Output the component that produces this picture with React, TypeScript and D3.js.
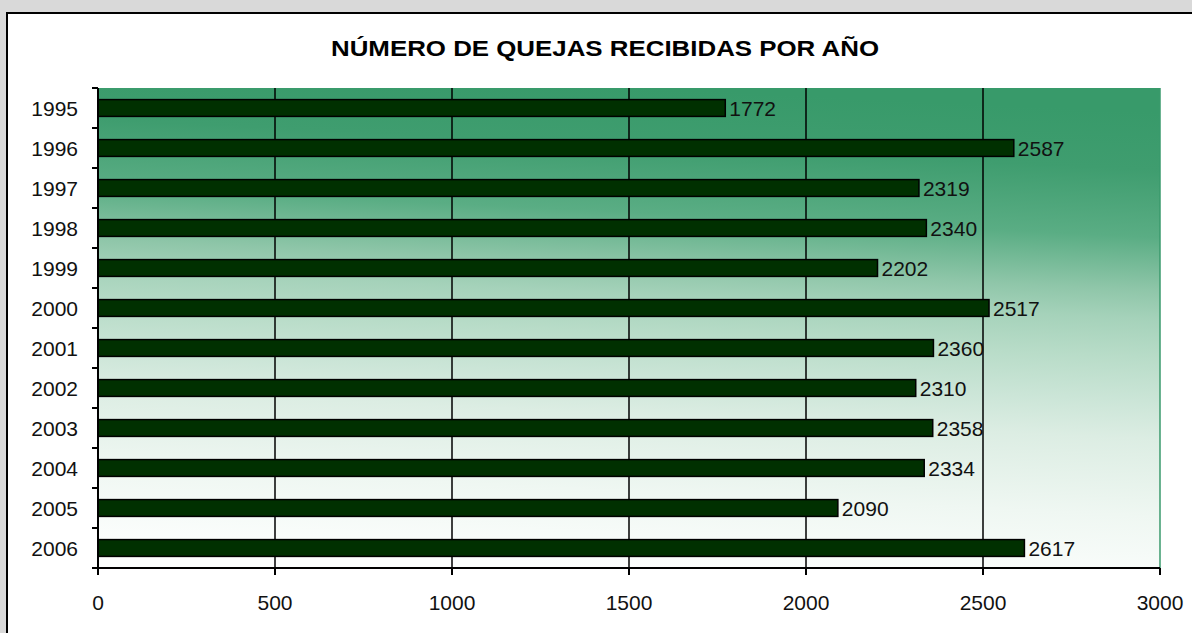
import { useEffect, useRef } from 'react'
import * as d3 from 'd3'

const years = ['1995', '1996', '1997', '1998', '1999', '2000', '2001', '2002', '2003', '2004', '2005', '2006']
const complaints = [1772, 2587, 2319, 2340, 2202, 2517, 2360, 2310, 2358, 2334, 2090, 2617]
const xTicks = [0, 500, 1000, 1500, 2000, 2500, 3000]
const title = 'NÚMERO DE QUEJAS RECIBIDAS POR AÑO'

export default function App() {
  const svgRef = useRef<SVGSVGElement>(null)
  const width = 1192
  const height = 633
  const margin = { top: 88, right: 32, bottom: 65, left: 98 }

  useEffect(() => {
    if (!svgRef.current) return
    const svg = d3.select(svgRef.current)
    svg.selectAll('*').remove()

    const innerWidth = width - margin.left - margin.right
    const innerHeight = height - margin.top - margin.bottom

    const x = d3.scaleLinear().domain([0, 3000]).range([0, innerWidth])
    const y = d3.scaleBand()
      .domain(years)
      .range([0, innerHeight])
      .paddingInner(0.58)
      .paddingOuter(0.29)

    // page background + chart frame
    svg.append('rect').attr('width', width).attr('height', height).attr('fill', '#d9d9d9')
    svg.append('rect').attr('x', 7).attr('y', 13).attr('width', width).attr('height', height)
      .attr('fill', '#ffffff').attr('stroke', '#000').attr('stroke-width', 2)

    // background gradient (coords are in the plot group's space)
    const defs = svg.append('defs')
    const grad = defs.append('linearGradient')
      .attr('id', 'plotBg')
      .attr('gradientUnits', 'userSpaceOnUse')
      .attr('x1', 550).attr('y1', 0)
      .attr('x2', 527).attr('y2', innerHeight)
    const stops: [number, string][] = [
      [0, '#389a6a'], [0.12, '#3f9d6f'], [0.26, '#5aad84'], [0.37, '#8fc6a9'],
      [0.43, '#a5d2ba'], [0.51, '#b8dcc8'], [0.6, '#cbe5d7'], [0.68, '#dcede3'],
      [0.84, '#eff7f2'], [1, '#fcfefd']
    ]
    stops.forEach(([o, c]) => grad.append('stop').attr('offset', o).attr('stop-color', c))

    const g = svg.append('g').attr('transform', `translate(${margin.left},${margin.top})`)

    g.append('rect')
      .attr('width', innerWidth)
      .attr('height', innerHeight)
      .attr('fill', 'url(#plotBg)')

    // right edge line
    g.append('line')
      .attr('x1', innerWidth).attr('x2', innerWidth)
      .attr('y1', 0).attr('y2', innerHeight)
      .attr('stroke', '#3a9a6c').attr('stroke-width', 1.5)

    // gridlines
    g.selectAll('.grid')
      .data(xTicks.filter(t => t > 0 && t < 3000))
      .enter()
      .append('line')
      .attr('x1', d => x(d)).attr('x2', d => x(d))
      .attr('y1', 0).attr('y2', innerHeight)
      .attr('stroke', '#000').attr('stroke-width', 1.5)

    // bars
    g.selectAll('.bar')
      .data(complaints)
      .enter()
      .append('rect')
      .attr('x', 0)
      .attr('y', (_, i) => y(years[i]) || 0)
      .attr('width', d => x(d))
      .attr('height', y.bandwidth())
      .attr('fill', '#003000')
      .attr('stroke', '#000')
      .attr('stroke-width', 1.5)

    // value labels
    g.selectAll('.val')
      .data(complaints)
      .enter()
      .append('text')
      .attr('x', d => x(d) + 4)
      .attr('y', (_, i) => (y(years[i]) || 0) + y.bandwidth() / 2)
      .attr('dy', '0.36em')
      .attr('font-family', 'Liberation Sans, Arial, sans-serif')
      .attr('font-size', 21)
      .attr('fill', '#111')
      .text(d => d)

    // left axis, ticks at category boundaries
    g.append('line')
      .attr('x1', 0).attr('x2', 0).attr('y1', 0).attr('y2', innerHeight)
      .attr('stroke', '#000').attr('stroke-width', 2)
    const cell = innerHeight / years.length
    g.selectAll('.ytick')
      .data(d3.range(years.length + 1))
      .enter()
      .append('line')
      .attr('x1', -6).attr('x2', 0)
      .attr('y1', i => i * cell)
      .attr('y2', i => i * cell)
      .attr('stroke', '#000').attr('stroke-width', 2)

    g.selectAll('.ylab')
      .data(years)
      .enter()
      .append('text')
      .attr('x', -20)
      .attr('y', d => (y(d) || 0) + y.bandwidth() / 2)
      .attr('dy', '0.36em')
      .attr('text-anchor', 'end')
      .attr('font-family', 'Liberation Sans, Arial, sans-serif')
      .attr('font-size', 21)
      .attr('fill', '#111')
      .text(d => d)

    // bottom axis
    g.append('line')
      .attr('x1', 0).attr('x2', innerWidth).attr('y1', innerHeight).attr('y2', innerHeight)
      .attr('stroke', '#000').attr('stroke-width', 2)
    g.selectAll('.xtick')
      .data(xTicks)
      .enter()
      .append('line')
      .attr('x1', d => x(d)).attr('x2', d => x(d))
      .attr('y1', innerHeight).attr('y2', innerHeight + 7)
      .attr('stroke', '#000').attr('stroke-width', 2)
    g.selectAll('.xlab')
      .data(xTicks)
      .enter()
      .append('text')
      .attr('x', d => x(d))
      .attr('y', innerHeight + 42)
      .attr('text-anchor', 'middle')
      .attr('font-family', 'Liberation Sans, Arial, sans-serif')
      .attr('font-size', 21)
      .attr('fill', '#111')
      .text(d => d)

    // title
    svg.append('text')
      .attr('x', 605)
      .attr('y', 56)
      .attr('text-anchor', 'middle')
      .attr('font-family', 'Liberation Sans, Arial, sans-serif')
      .attr('font-weight', 'bold')
      .attr('font-size', 22)
      .attr('textLength', 548)
      .attr('lengthAdjust', 'spacingAndGlyphs')
      .attr('fill', '#000')
      .text(title)
  }, [])

  return (
    <svg
      ref={svgRef}
      width={width}
      height={height}
      style={{ position: 'absolute', left: 0, top: 0, display: 'block' }}
    />
  )
}
